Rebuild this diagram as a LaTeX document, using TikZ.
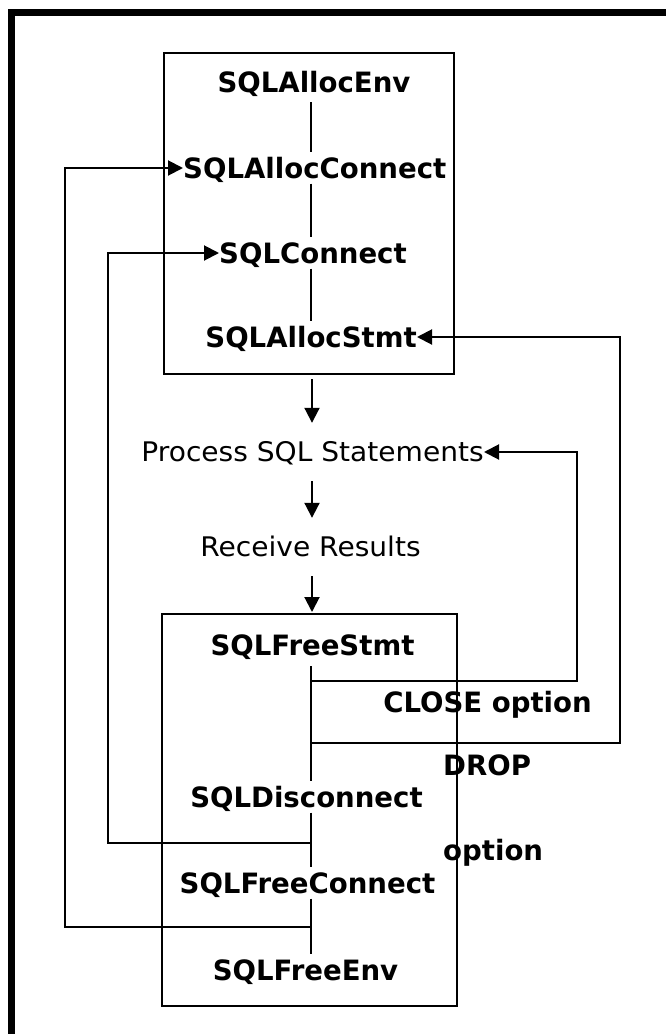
\documentclass[tikz,border=0pt]{standalone}
\usepackage{fontspec}
\setmainfont{DejaVu Sans}
\newfontfamily\boldf[FakeStretch=0.985]{DejaVu Sans}
\newfontfamily\regf[FakeStretch=1.04]{DejaVu Sans}
\usetikzlibrary{arrows.meta}
\begin{document}
\begin{tikzpicture}[x=1pt,y=-1pt,
  fn/.style={font=\boldf\bfseries\fontsize{28}{32}\selectfont, inner xsep=0pt, inner ysep=5.5pt, text height=20pt, text depth=0pt},
  lbl/.style={font=\boldf\bfseries\fontsize{28}{32}\selectfont, inner sep=0pt, text height=20pt, text depth=0pt},
  proc/.style={font=\regf\fontsize{27}{32}\selectfont, inner xsep=0pt, inner ysep=19.5pt, text height=19pt, text depth=0pt},
  ln/.style={line width=2pt},
  arr/.style={ln, -{Triangle[length=15pt,width=15pt]}},
  framebox/.style={draw, line width=2pt, inner sep=0pt}]
\useasboundingbox (0,0) rectangle (666,1034);
% outer frame (top and left bars)
\fill (8,9) rectangle (666,16);
\fill (8,9) rectangle (15,1034);
% boxes
\node[framebox, minimum width=290pt, minimum height=321pt] (topbox) at (309,213.5) {};
\node[framebox, minimum width=295pt, minimum height=392pt] (botbox) at (309.5,810) {};
% texts
\node[fn] (env) at (314,82) {SQLAllocEnv};
\node[fn, anchor=west] (aconn) at (183,168) {SQLAllocConnect};
\node[fn, anchor=west] (conn) at (219,253) {SQLConnect};
\node[fn, anchor=east] (astmt) at (417,337) {SQLAllocStmt};
\node[proc, anchor=east] (procs) at (484,452) {Process SQL Statements};
\node[proc] (recv) at (310.5,547) {Receive Results};
\node[fn] (fstmt) at (312.5,645) {SQLFreeStmt};
\node[fn] (disc) at (306.5,797) {SQLDisconnect};
\node[fn] (fconn) at (307.5,883) {SQLFreeConnect};
\node[fn] (fenv) at (305.5,970) {SQLFreeEnv};
\node[lbl] (close) at (487.5,702) {CLOSE option};
\node[lbl, anchor=west] (drop) at (443,765) {DROP};
\node[lbl, anchor=west] (opt) at (443,850) {option};
% helper coordinates
\coordinate (vx) at (311,0);
\coordinate (ax) at (312,0);
\coordinate (r1) at (577,0);
\coordinate (r2) at (620,0);
\coordinate (l1) at (108,0);
\coordinate (l2) at (65,0);
\coordinate (j1) at (311,681);
\coordinate (j2) at (311,743);
\coordinate (j3) at (311,843);
\coordinate (j4) at (311,927);
% top chain
\draw[ln, shorten <=4.5pt] (env.south -| vx) -- (aconn.north -| vx);
\draw[ln] (aconn.south -| vx) -- (conn.north -| vx);
\draw[ln] (conn.south -| vx) -- (astmt.north -| vx);
% bottom chain
\draw[ln, shorten <=5.5pt] (fstmt.south -| vx) -- (disc.north -| vx);
\draw[ln] (disc.south -| vx) -- (fconn.north -| vx);
\draw[ln] (fconn.south -| vx) -- (fenv.north -| vx);
% main flow arrows
\draw[arr, shorten <=4pt] (topbox.south -| ax) -- (procs.north -| ax);
\draw[arr] (procs.south -| ax) -- (recv.north -| ax);
\draw[arr, shorten >=1pt] (recv.south -| ax) -- (botbox.north -| ax);
% loop-back arrows
\draw[arr] (j1) -| (r1 |- procs.east) -- (procs.east);
\draw[arr] (j2) -| (r2 |- astmt.east) -- (astmt.east);
\draw[arr] (j3) -| (l1 |- conn.west) -- (conn.west);
\draw[arr] (j4) -| (l2 |- aconn.west) -- (aconn.west);
\end{tikzpicture}
\end{document}
